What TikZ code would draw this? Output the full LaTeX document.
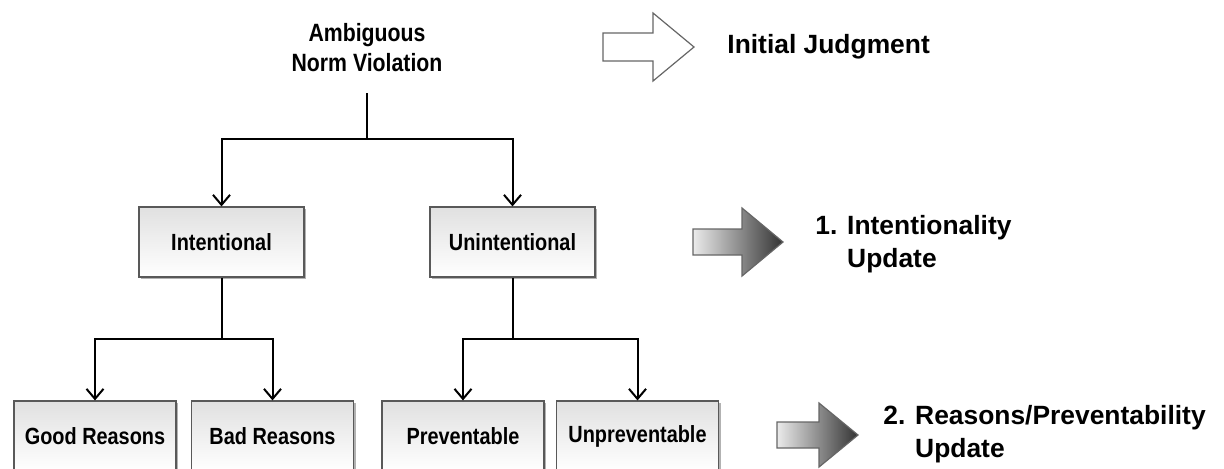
\documentclass[tikz,border=0pt]{standalone}
\usepackage{fontspec}
\setmainfont{Liberation Sans}
\newfontfamily\narrowsans[FakeStretch=0.85]{Liberation Sans}
\usetikzlibrary{arrows.meta,shadows}

\tikzset{
  choice/.style={draw=black!65, line width=0.6pt, top color=black!12, bottom color=white,
    minimum width=81pt, minimum height=35pt, font=\narrowsans\fontsize{11.7}{14}\selectfont\bfseries,
    drop shadow={shadow xshift=1.2pt, shadow yshift=-1.2pt, opacity=0.5, fill=black!60}},
  branch/.style={line width=1pt},
  branchto/.style={branch, -{Straight Barb[length=5pt,width=8.5pt]}},
  stagelabel/.style={font=\fontsize{13.2}{16.5}\selectfont\bfseries, align=left, anchor=west, inner sep=0pt},
  bigarrow/.style={draw=black!60, line width=0.6pt, left color=black!8, right color=black!80},
}

\begin{document}
\begin{tikzpicture}[x=0.5pt, y=-0.5pt]
\clip (0,0) rectangle (1224,468);

% the tree
\node[align=center, font=\narrowsans\fontsize{12.5}{15}\selectfont\bfseries] (amb) at (367,48) {Ambiguous\\Norm Violation};
\coordinate (amb-out) at (367,93);
\coordinate (split0) at (367,139);

\node[choice, minimum width=82.5pt] (int) at (221.5,242) {Intentional};
\node[choice, minimum width=82.5pt] (unint) at (512.5,242) {Unintentional};

\node[choice] (good) at (95,436) {Good Reasons};
\node[choice] (bad) at (272.5,436) {Bad Reasons};
\node[choice] (prev) at (463,436) {Preventable};
\node[choice] (unprev) at (637.5,436) {Unpreventable};

\draw[branch] (amb-out) -- (split0);
\draw[branchto] (split0) -| (int);
\draw[branchto] (split0) -| (unint);

\path (int.south) ++(0,61) coordinate (split1);
\path (unint.south) ++(0,61) coordinate (split2);
\draw[branch] (int.south) -- (split1);
\draw[branchto] (split1) -| (good);
\draw[branchto] (split1) -| (bad);
\draw[branch] (unint.south) -- (split2);
\draw[branchto] (split2) -| (prev);
\draw[branchto] (split2) -| (unprev);

% stage arrows
\draw[fill=white, draw=black!60, line width=0.6pt]
  (603,33) -- (653,33) -- (653,13) -- (694,47) -- (653,81) -- (653,61) -- (603,61) -- cycle;
\draw[bigarrow]
  (693,229) -- (742,229) -- (742,208) -- (783,242) -- (742,276) -- (742,255) -- (693,255) -- cycle;
\draw[bigarrow]
  (777,422) -- (819,422) -- (819,403) -- (858,435) -- (819,467) -- (819,448) -- (777,448) -- cycle;

\node[stagelabel] (judg) at (727,47) {Initial Judgment};
\node[stagelabel] (upd1) at (815,244) {1. Intentionality\\\phantom{1. }Update};
\node[stagelabel] (upd2) at (883,434) {2. Reasons/Preventability\\\phantom{2. }Update};

\end{tikzpicture}
\end{document}
